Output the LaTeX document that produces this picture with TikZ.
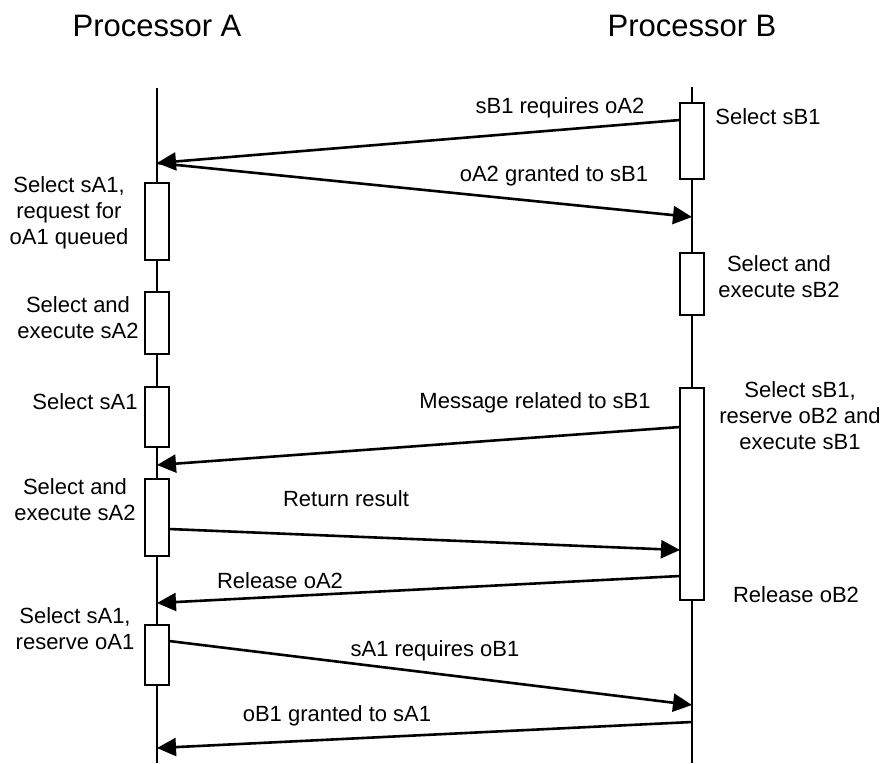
\documentclass[tikz,border=0pt]{standalone}
\usepackage{fontspec}
\setmainfont{Liberation Sans}
\usetikzlibrary{arrows.meta}
\begin{document}
\begin{tikzpicture}[x=1pt,y=-1pt,
  lifeline/.style={line width=2pt},
  act/.style={draw, fill=white, line width=2pt, minimum width=24pt, inner sep=0pt},
  msg/.style={line width=2.6pt, -{Triangle[length=19pt,width=18pt]}},
  lbl/.style={font=\fontsize{22}{26}\selectfont, align=center, inner sep=0pt},
  ttl/.style={font=\fontsize{31}{36}\selectfont, inner sep=0pt}]
\useasboundingbox (0,0) rectangle (888,763);

% titles
\node[ttl] (ta) at (157,26) {Processor A};
\node[ttl] (tb) at (692,26) {Processor B};

% lifelines
\coordinate (Atop) at (157,88);
\coordinate (Abot) at (157,763);
\coordinate (Btop) at (692,87);
\coordinate (Bbot) at (692,763);
\draw[lifeline] (Atop) -- (Abot);
\draw[lifeline] (Btop) -- (Bbot);

% activation boxes, processor A
\node[act, minimum height=77pt] (a1) at (157,221.5) {};
\node[act, minimum height=62pt] (a2) at (157,323) {};
\node[act, minimum height=60pt] (a3) at (157,417) {};
\node[act, minimum height=77pt] (a4) at (157,517.5) {};
\node[act, minimum height=60pt] (a5) at (157,655) {};

% activation boxes, processor B
\node[act, minimum height=76pt] (b1) at (692,141) {};
\node[act, minimum height=62pt] (b2) at (692,284) {};
\node[act, minimum height=212pt] (b3) at (692,494) {};

% message end points
\coordinate (m1s) at (680,120);
\coordinate (m1e) at (157,163);
\coordinate (m2e) at (692,217);
\coordinate (m3s) at (680,427);
\coordinate (m3e) at (157,465);
\coordinate (m4s) at (169,529);
\coordinate (m4e) at (680,550);
\coordinate (m5s) at (680,576);
\coordinate (m5e) at (157,603);
\coordinate (m6s) at (169,641);
\coordinate (m6e) at (692,705);
\coordinate (m7s) at (692,722);
\coordinate (m7e) at (157,748);

% messages
\draw[msg] (m1s) -- (m1e);
\draw[msg] (m1e) -- (m2e);
\draw[msg] (m3s) -- (m3e);
\draw[msg] (m4s) -- (m4e);
\draw[msg] (m5s) -- (m5e);
\draw[msg] (m6s) -- (m6e);
\draw[msg] (m7s) -- (m7e);

% message labels
\node[lbl] (l1) at (560,108) {sB1 requires oA2};
\node[lbl] (l2) at (554,176) {oA2 granted to sB1};
\node[lbl] (l3) at (535,403) {Message related to sB1};
\node[lbl] (l4) at (346,499) {Return result};
\node[lbl] (l5) at (280,581) {Release oA2};
\node[lbl] (l6) at (435,651) {sA1 requires oB1};
\node[lbl] (l7) at (337,716) {oB1 granted to sA1};

% activity labels, processor A
\node[lbl] (n1) at (69,213) {Select sA1,\\request for\\oA1 queued};
\node[lbl] (n2) at (78,318) {Select and\\execute sA2};
\node[lbl] (n3) at (85,402) {Select sA1};
\node[lbl] (n4) at (75,500) {Select and\\execute sA2};
\node[lbl] (n5) at (75,629) {Select sA1,\\reserve oA1};

% activity labels, processor B
\node[lbl] (k1) at (768,117) {Select sB1};
\node[lbl] (k2) at (779,277) {Select and\\execute sB2};
\node[lbl] (k3) at (800,416) {Select sB1,\\reserve oB2 and\\execute sB1};
\node[lbl] (k4) at (796,595) {Release oB2};
\end{tikzpicture}
\end{document}
